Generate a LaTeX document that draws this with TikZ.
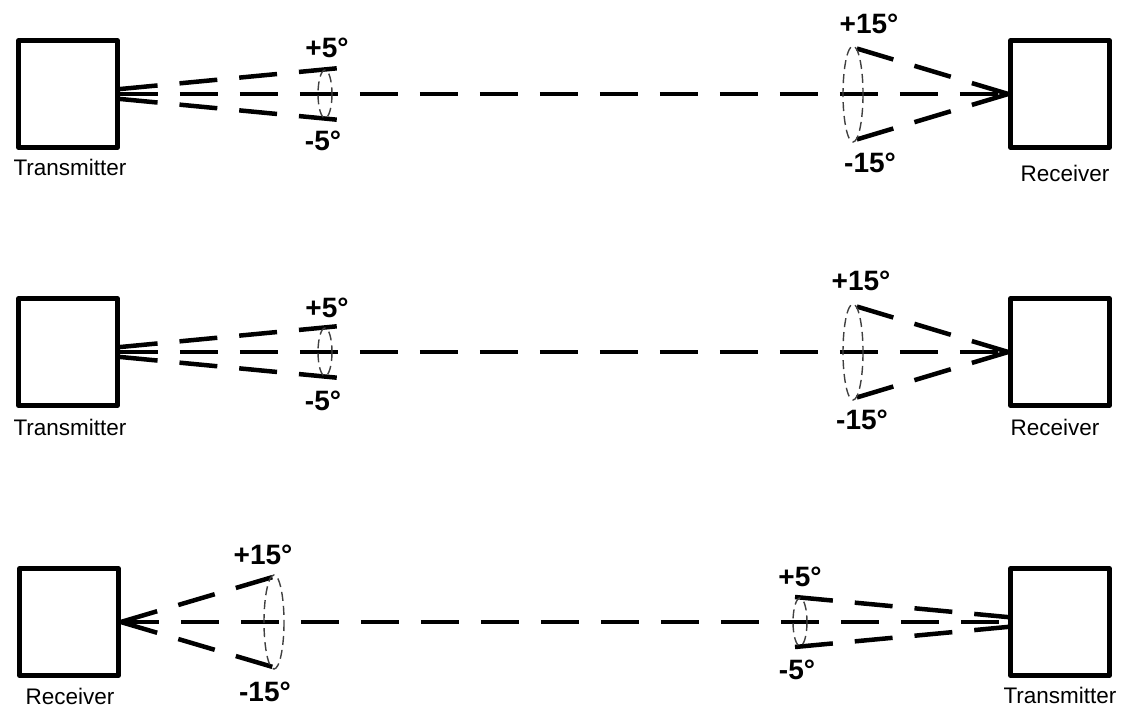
\documentclass[tikz,border=0pt]{standalone}
\usepackage{fontspec}
\setmainfont{Liberation Sans}

\begin{document}
\begin{tikzpicture}[x=1pt, y=-1pt,
  box/.style={draw, line width=4.5pt, line join=round, minimum width=99pt, minimum height=107pt, inner sep=0pt},
  beam/.style={line width=4.5pt, dash pattern=on 38pt off 22pt},
  cone/.style={line width=1.4pt, gray!50!black, dash pattern=on 9pt off 5pt},
  deg/.style={font=\fontsize{28}{30}\selectfont\bfseries, inner sep=0pt},
  lbl/.style={font=\fontsize{22.5}{24}\selectfont, inner sep=0pt}]
\useasboundingbox (0,0) rectangle (1123,708);
% Row 1
\node[box] (tx1) at (68,94) {}; \node[box] (rx1) at (1060,94) {};
\node[lbl] (tx1lbl) at (70,167) {Transmitter}; \node[lbl] (rx1lbl) at (1065,173) {Receiver};
\coordinate (tx1up) at (340,68); \coordinate (tx1dn) at (340,120);
\coordinate (rx1up) at (845,45); \coordinate (rx1dn) at (845,143);
\draw[beam] (tx1) -- (rx1);
\foreach \e in {tx1up, tx1dn} { \draw[beam] (tx1) -- (\e); }
\foreach \e in {rx1up, rx1dn} { \draw[beam] (rx1.west) -- (\e); }
\draw[cone] (325,94) ellipse [x radius=7, y radius=24];
\draw[cone] (853,94) ellipse [x radius=10, y radius=48];
\node[deg] (tx1p) at (327,48) {+5°}; \node[deg] (tx1m) at (323,141) {-5°};
\node[deg] (rx1p) at (869,24) {+15°}; \node[deg] (rx1m) at (870,163) {-15°};
% Row 2
\node[box] (tx2) at (68,352) {}; \node[box] (rx2) at (1060,352) {};
\node[lbl] (tx2lbl) at (70,427) {Transmitter}; \node[lbl] (rx2lbl) at (1055,427) {Receiver};
\coordinate (tx2up) at (340,326); \coordinate (tx2dn) at (340,378);
\coordinate (rx2up) at (845,303); \coordinate (rx2dn) at (845,401);
\draw[beam] (tx2) -- (rx2);
\foreach \e in {tx2up, tx2dn} { \draw[beam] (tx2) -- (\e); }
\foreach \e in {rx2up, rx2dn} { \draw[beam] (rx2.west) -- (\e); }
\draw[cone] (325,352) ellipse [x radius=7, y radius=24];
\draw[cone] (853,352) ellipse [x radius=10, y radius=48];
\node[deg] (tx2p) at (327,308) {+5°}; \node[deg] (tx2m) at (323,401) {-5°};
\node[deg] (rx2p) at (861,281) {+15°}; \node[deg] (rx2m) at (862,420) {-15°};
% Row 3
\node[box] (rx3) at (69,622) {}; \node[box] (tx3) at (1060,622) {};
\node[lbl] (rx3lbl) at (70,696) {Receiver}; \node[lbl] (tx3lbl) at (1060,695) {Transmitter};
\coordinate (rx3up) at (283,574); \coordinate (rx3dn) at (283,670);
\coordinate (tx3up) at (795,597); \coordinate (tx3dn) at (795,647);
\draw[beam] (rx3) -- (tx3);
\foreach \e in {rx3up, rx3dn} { \draw[beam] (rx3.east) -- (\e); }
\foreach \e in {tx3up, tx3dn} { \draw[beam] (\e) -- (tx3); }
\draw[cone] (274,622) ellipse [x radius=10, y radius=47];
\draw[cone] (800,622) ellipse [x radius=7, y radius=24];
\node[deg] (rx3p) at (263,555) {+15°}; \node[deg] (rx3m) at (265,692) {-15°};
\node[deg] (tx3p) at (800,577) {+5°}; \node[deg] (tx3m) at (797,670) {-5°};
\end{tikzpicture}
\end{document}
